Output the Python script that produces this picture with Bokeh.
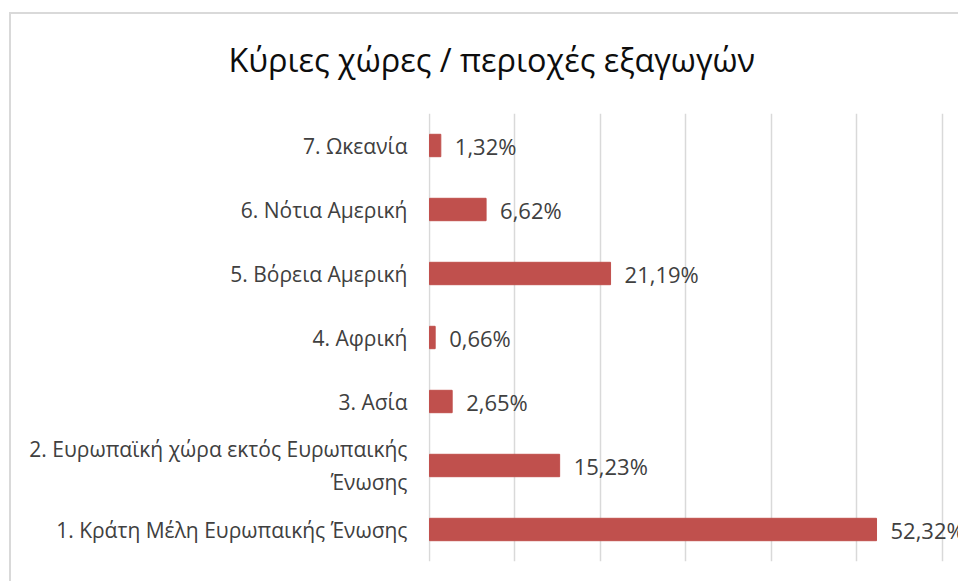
from bokeh.plotting import figure
from bokeh.models import FactorRange, Range1d, FixedTicker, ColumnDataSource, Title
from bokeh.core.properties import value
from bokeh.embed import file_html
from bokeh.resources import INLINE

title_text = "Κύριες χώρες / περιοχές εξαγωγών"
categories = [
    "1. Κράτη Μέλη Ευρωπαικής Ένωσης",
    "2. Ευρωπαϊκή χώρα εκτός Ευρωπαικής\nΈνωσης",
    "3. Ασία",
    "4. Αφρική",
    "5. Βόρεια Αμερική",
    "6. Νότια Αμερική",
    "7. Ωκεανία",
]
values = [52.32, 15.23, 2.65, 0.66, 21.19, 6.62, 1.32]
grid_ticks = [0, 10, 20, 30, 40, 50, 60]

labels = [f"{v:.2f}".replace(".", ",") + "%" for v in values]
src = ColumnDataSource(dict(cat=categories, val=values, lab=labels))

FONT = "Open Sans"
LABEL_SIZE = "21px"
LABEL_COLOR = "#404040"

p = figure(width=949, height=569, output_backend="svg", toolbar_location=None, title=None,
           y_range=FactorRange(factors=categories), x_range=Range1d(-0.12, 62.15),
           min_border_left=417, min_border_right=0, min_border_top=99, min_border_bottom=22)
p.margin = (12, 0, 0, 9)
p.styles = {"border-top": "2px solid #D9D9D9", "border-left": "2px solid #D9D9D9"}
# spacer (nearest the frame) then the real title above it
p.add_layout(Title(text=" ", text_font_size="1px", standoff=30), "above")
p.add_layout(Title(text=title_text, align="left", offset=-200, text_font=FONT,
                   text_font_size="32.4px", text_font_style="normal", text_color="#0d0d0d",
                   standoff=0), "above")
p.outline_line_color = None
p.background_fill_color = "white"
p.border_fill_color = "white"

p.hbar(y="cat", right="val", left=0, height=0.35, source=src,
       fill_color="#C0504D", line_color="#C0504D")
p.text(x="val", y="cat", text="lab", source=src, x_offset=14,
       text_baseline="middle", text_align="left", text_font=value(FONT),
       text_font_size="22px", text_color=LABEL_COLOR)

p.xaxis.visible = False
p.xaxis.ticker = FixedTicker(ticks=grid_ticks)
p.xgrid.ticker = FixedTicker(ticks=grid_ticks)
p.xgrid.grid_line_color = "#D9D9D9"
p.xgrid.grid_line_width = 1.5
p.ygrid.grid_line_color = None

ya = p.yaxis[0]
ya.axis_line_color = None
ya.major_tick_line_color = None
ya.minor_tick_line_color = None
ya.major_tick_out = 0
ya.major_label_standoff = 21
ya.major_label_text_font = FONT
ya.major_label_text_font_size = LABEL_SIZE
ya.major_label_text_color = LABEL_COLOR

open("out.html", "w").write(file_html(p, INLINE))
